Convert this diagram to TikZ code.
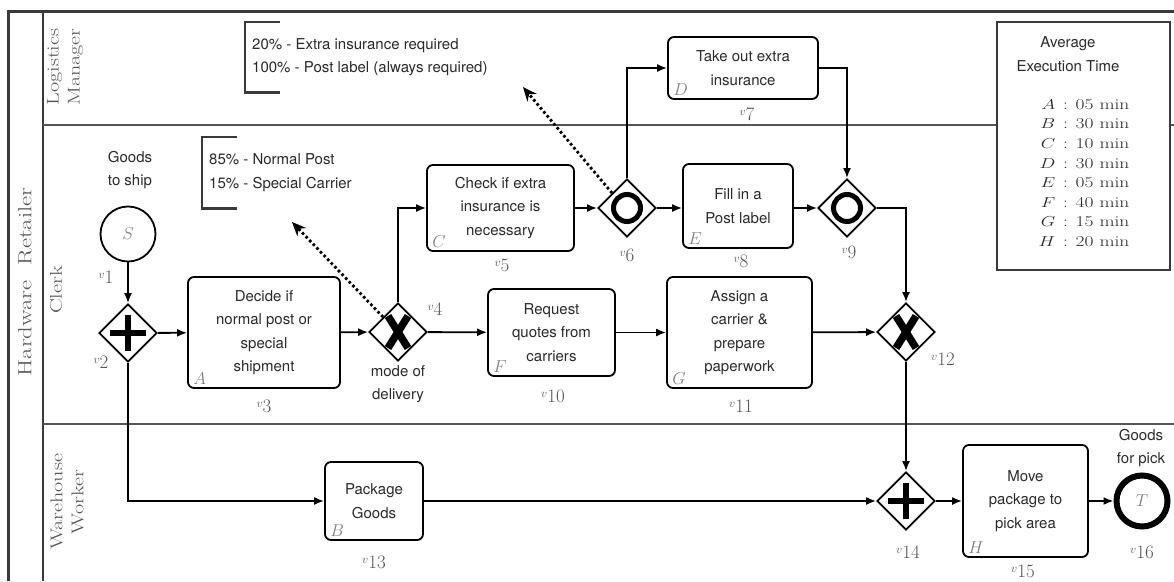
\documentclass[tikz,border=0pt]{standalone}
\usepackage{fontspec}
\usepackage{graphicx}
\newfontfamily\hv{TeX Gyre Heros}
\usetikzlibrary{arrows.meta,shapes.geometric,calc}
\definecolor{txt}{HTML}{2A2A2A}
\definecolor{lettc}{HTML}{808080}
\definecolor{vgray}{HTML}{555555}
\definecolor{framec}{HTML}{3A3A3A}
\definecolor{lanec}{HTML}{555555}
\newcommand{\bx}{\hv\fontsize{15}{23.5}\selectfont}
\newcommand{\vlab}[1]{{\fontsize{13}{13}\selectfont\raisebox{5pt}{$v$}}{\fontsize{19}{19}\selectfont #1}}
\newcommand{\lanetxt}[1]{\scalebox{1.3}[1]{#1}}
\tikzset{
  box/.style={draw=black, line width=1.8pt, rounded corners=6pt, align=center, font=\bx, text=txt, inner sep=2pt},
  gw/.style={diamond, draw=black, line width=1.8pt, minimum width=58pt, minimum height=58pt, inner sep=0pt, aspect=1},
  flow/.style={line width=1.8pt, -{Latex[length=10pt,width=8pt]}},
  assoc/.style={line width=2.8pt, dash pattern=on 2.6pt off 2.6pt, -{Stealth[length=14pt,width=12pt]}},
  vl/.style={text=vgray, inner sep=0pt},
  lett/.style={text=lettc, inner sep=0pt, font=\fontsize{17}{17}\selectfont, anchor=south west},
  plain/.style={align=center, font=\bx, text=txt, inner sep=0pt},
  annot/.style={align=left, font=\bx, text=txt, inner xsep=7pt, inner ysep=0pt, anchor=north west},
  brk/.style={line width=2.2pt, draw=framec},
  lanel/.style={align=center, text=lanec, rotate=90, inner sep=0pt, font=\fontsize{17}{21}\selectfont},
  sym/.style={line width=6.5pt, line cap=butt},
  xsym/.style={line width=7.5pt, line cap=butt},
}
\begin{document}
\begin{tikzpicture}[x=1pt,y=-1pt]
\fill[white] (0,0) rectangle (1174,581);
\useasboundingbox (0,0) rectangle (1174,581);
% pool and lanes
\draw[line width=3pt, draw=framec] (1174,11) -- (8,11) -- (8,581);
\draw[line width=2.2pt, draw=framec] (43,11) -- (43,581);
\draw[line width=2pt, draw=lanec] (43,125) -- (1174,125);
\draw[line width=2pt, draw=lanec] (43,424) -- (1174,424);
\node[lanel, font=\fontsize{19}{19}\selectfont] (pool) at (25,282) {\lanetxt{Hardware\ \ Retailer}};
\node[lanel] (lane1) at (65,67) {\lanetxt{Logistics}\\\lanetxt{Manager}};
\node[lanel] (lane2) at (56,290) {\lanetxt{Clerk}};
\node[lanel] (lane3) at (67,502) {\lanetxt{Warehouse}\\\lanetxt{Worker}};

% events
\node[circle, draw=black, line width=1.8pt, minimum size=55pt, inner sep=0pt, text=lettc, font=\fontsize{17}{17}\selectfont] (S) at (128,234) {$S$};
\node[plain] (Slab) at (130,170) {Goods\\to ship};
\node[circle, draw=black, line width=6pt, minimum size=51pt, inner sep=0pt, text=lettc, font=\fontsize{17}{17}\selectfont] (T) at (1142,501) {$T$};
\node[plain] (Tlab) at (1141,448) {Goods\\for pick};

% gateways
\node[gw] (v2) at (128,333) {};
\draw[sym] ([yshift=18pt]v2.center) -- ([yshift=-18pt]v2.center);
\draw[sym] ([xshift=-18pt]v2.center) -- ([xshift=18pt]v2.center);
\node[gw] (v4) at (398,332) {};
\draw[xsym] ([xshift=-10pt,yshift=16pt]v4.center) -- ([xshift=10pt,yshift=-16pt]v4.center);
\draw[xsym] ([xshift=10pt,yshift=16pt]v4.center) -- ([xshift=-10pt,yshift=-16pt]v4.center);
\node[plain] (v4lab) at (398,384) {mode of\\delivery};
\node[gw] (v6) at (627,208) {};
\draw[line width=5pt] (v6.center) circle (13.5pt);
\node[gw] (v9) at (847,208) {};
\draw[line width=5pt] (v9.center) circle (13.5pt);
\node[gw] (v12) at (906,332) {};
\draw[xsym] ([xshift=-10pt,yshift=16pt]v12.center) -- ([xshift=10pt,yshift=-16pt]v12.center);
\draw[xsym] ([xshift=10pt,yshift=16pt]v12.center) -- ([xshift=-10pt,yshift=-16pt]v12.center);
\node[gw] (v14) at (906,501) {};
\draw[sym] ([yshift=18pt]v14.center) -- ([yshift=-18pt]v14.center);
\draw[sym] ([xshift=-18pt]v14.center) -- ([xshift=18pt]v14.center);

% tasks
\node[box, minimum width=152pt, minimum height=111pt] (A) at (264,332.5) {Decide if\\normal post or\\special\\shipment};
\node[box, minimum width=147pt, minimum height=86pt] (C) at (500.5,208) {Check if extra\\insurance is\\necessary};
\node[box, minimum width=150pt, minimum height=62pt] (D) at (743,68) {Take out extra\\insurance};
\node[box, minimum width=110pt, minimum height=84pt] (E) at (738,206) {Fill in a\\Post label};
\node[box, minimum width=127pt, minimum height=87pt] (F) at (551.5,332.5) {Request\\quotes from\\carriers};
\node[box, minimum width=145pt, minimum height=111pt] (G) at (739.5,332.5) {Assign a\\carrier \&\\prepare\\paperwork};
\node[box, minimum width=98pt, minimum height=78pt] (B) at (374,501) {Package\\Goods};
\node[box, minimum width=125pt, minimum height=112pt] (H) at (1025.5,501) {Move\\package to\\pick area};

\node[lett] (lA) at ([xshift=6pt,yshift=4pt]A.south west) {$A$};
\node[lett] (lB) at ([xshift=6pt,yshift=4pt]B.south west) {$B$};
\node[lett] (lC) at ([xshift=6pt,yshift=4pt]C.south west) {$C$};
\node[lett] (lD) at ([xshift=6pt,yshift=4pt]D.south west) {$D$};
\node[lett] (lE) at ([xshift=6pt,yshift=4pt]E.south west) {$E$};
\node[lett] (lF) at ([xshift=6pt,yshift=4pt]F.south west) {$F$};
\node[lett] (lG) at ([xshift=6pt,yshift=4pt]G.south west) {$G$};
\node[lett] (lH) at ([xshift=6pt,yshift=4pt]H.south west) {$H$};

% v labels
\node[vl] (n1) at (106,277) {\vlab{1}};
\node[vl] (n2) at (101,362) {\vlab{2}};
\node[vl] (n3) at (264,406) {\vlab{3}};
\node[vl] (n4) at (435,309) {\vlab{4}};
\node[vl] (n5) at (502,265) {\vlab{5}};
\node[vl] (n6) at (627,255) {\vlab{6}};
\node[vl] (n7) at (747,114) {\vlab{7}};
\node[vl] (n8) at (741,261) {\vlab{8}};
\node[vl] (n9) at (849,252) {\vlab{9}};
\node[vl] (n10) at (553,396) {\vlab{10}};
\node[vl] (n11) at (741,406) {\vlab{11}};
\node[vl] (n12) at (943,359) {\vlab{12}};
\node[vl] (n13) at (374,562) {\vlab{13}};
\node[vl] (n14) at (908,552) {\vlab{14}};
\node[vl] (n15) at (1023,571) {\vlab{15}};
\node[vl] (n16) at (1142,552) {\vlab{16}};

% sequence flows
\draw[flow] (S) -- (v2);
\draw[flow] (v2) -- (A);
\draw[flow] (A) -- (v4);
\draw[flow] (v4) -- (F);
\draw[flow] (F) -- (G);
\draw[flow] (G) -- (v12);
\draw[flow] (v4.north) |- (C.west);
\draw[flow] (C) -- (v6);
\draw[flow] (v6.north) |- (D.west);
\draw[flow] (v6) -- (v6 -| E.west);
\draw[flow] (D.east) -| (v9.north);
\draw[flow] (E.east |- v9) -- (v9);
\draw[flow] (v9.east) -| (v12.north);
\draw[flow] (v12) -- (v14);
\draw[flow] (v2.south) |- (B.west);
\draw[flow] (B) -- (v14);
\draw[flow] (v14) -- (H);
\draw[flow] (H) -- (T);

% annotations
\node[annot, minimum height=71pt] (ann1) at (202,137) {85\% - Normal Post\\15\% - Special Carrier};
\draw[brk] ([xshift=35pt]ann1.north west) -- (ann1.north west) -- (ann1.south west) -- ([xshift=35pt]ann1.south west);
\node[annot, minimum height=70pt] (ann2) at (245,22) {20\% - Extra insurance required\\100\% - Post label (always required)};
\draw[brk] ([xshift=35pt]ann2.north west) -- (ann2.north west) -- (ann2.south west) -- ([xshift=35pt]ann2.south west);
\coordinate (a1tip) at (292,222);
\coordinate (a2tip) at (523,87);
\draw[assoc] (v4.north west) -- (a1tip);
\draw[assoc] (v6.north west) -- (a2tip);

% legend
\node[draw=framec, line width=2.2pt, fill=white, minimum width=173pt, minimum height=248pt, inner sep=0pt] (legend) at (1083.5,146) {};
\node[plain] (legtitle) at (1068,54) {Average\\Execution Time};
\node[inner sep=0pt, text=txt] (legtab) at (1084,174) {\scalebox{1.3}[1]{\fontsize{15}{19.6}\selectfont
\begin{tabular}{@{}r@{\hspace{6pt}:\hspace{6pt}}l@{}}
$A$ & 05~min\\
$B$ & 30~min\\
$C$ & 10~min\\
$D$ & 30~min\\
$E$ & 05~min\\
$F$ & 40~min\\
$G$ & 15~min\\
$H$ & 20~min
\end{tabular}}};
\end{tikzpicture}
\end{document}
